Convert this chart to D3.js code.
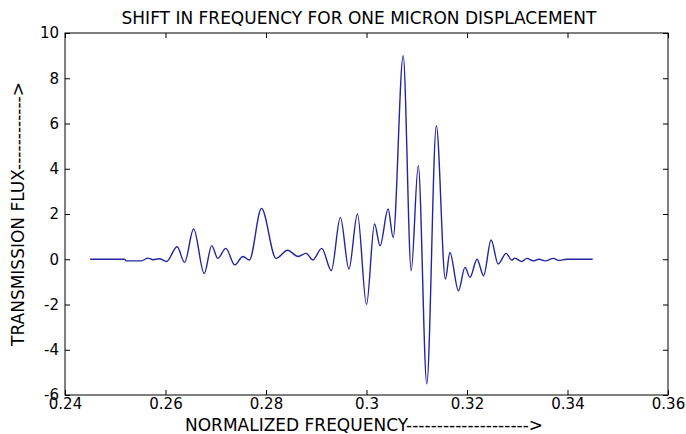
<!DOCTYPE html>
<html>
<head>
<meta charset="utf-8">
<script src="https://cdn.jsdelivr.net/npm/d3@7"></script>
<style>
body { margin: 0; background: #fff; }
text { font-family: "DejaVu Sans", sans-serif; fill: #000; }
</style>
</head>
<body>
<script>
// turning points of the trace
var freq = [0.245, 0.2518, 0.2522, 0.2552, 0.2565, 0.2575, 0.2588, 0.2602, 0.2623, 0.2638,
	0.2656, 0.2677, 0.2692, 0.2704, 0.2720, 0.2738, 0.2754, 0.2767, 0.2791, 0.2820,
	0.2843, 0.2864, 0.2880, 0.2893, 0.2911, 0.2930, 0.2948, 0.2965, 0.2982, 0.3000,
	0.3016, 0.3027, 0.3043, 0.3053, 0.3073, 0.3089, 0.3103, 0.3120, 0.3139, 0.3157,
	0.3166, 0.3183, 0.3196, 0.3206, 0.3220, 0.3233, 0.3248, 0.3262, 0.3278, 0.3289,
	0.3295, 0.3309, 0.3319, 0.3332, 0.3343, 0.3356, 0.3372, 0.3382, 0.3398, 0.345];
var flux = [0, 0, -0.07, -0.07, 0.05, -0.02, 0.02, -0.1, 0.55, -0.14,
	1.34, -0.63, 0.6, 0.04, 0.48, -0.25, 0.12, -0.03, 2.25, 0.04,
	0.4, 0.12, 0.26, -0.03, 0.48, -0.5, 1.85, -0.43, 2.0, -2.0,
	1.56, 0.6, 2.22, 0.96, 9.0, -0.5, 4.14, -5.5, 5.9, -0.88,
	0.3, -1.39, -0.36, -0.8, 0.0, -0.73, 0.85, -0.21, 0.26, -0.04,
	0.05, -0.1, 0.04, -0.07, 0.0, -0.07, 0.04, -0.05, 0.0, 0];

var xTicks = [0.24, 0.26, 0.28, 0.3, 0.32, 0.34, 0.36];
var yTicks = [-6, -4, -2, 0, 2, 4, 6, 8, 10];

var titleText = "SHIFT IN FREQUENCY FOR ONE MICRON DISPLACEMENT";
var xLabel = "NORMALIZED FREQUENCY-------------------->";
var yLabel = "TRANSMISSION FLUX------------>";

var W = 686, H = 434;
// plot box (named m* so they don't clash with window.top etc)
var mLeft = 65, mRight = 668, mTop = 33, mBottom = 395;

var svg = d3.select("body").append("svg")
	.attr("width", W)
	.attr("height", H);

var x = d3.scaleLinear().domain([0.24, 0.36]).range([mLeft, mRight]);
var y = d3.scaleLinear().domain([-6, 10]).range([mBottom, mTop]);

// box
svg.append("rect")
	.attr("x", mLeft).attr("y", mTop)
	.attr("width", mRight - mLeft).attr("height", mBottom - mTop)
	.attr("fill", "none").attr("stroke", "#000").attr("stroke-width", 1);

// axes, ticks pointing inwards like matlab
var fmt = function(d) { return String(d); };

var gx = svg.append("g").attr("transform", "translate(0," + mBottom + ")")
	.call(d3.axisBottom(x).tickValues(xTicks).tickFormat(fmt).tickSizeInner(-5).tickSizeOuter(0).tickPadding(3));
var gxt = svg.append("g").attr("transform", "translate(0," + mTop + ")")
	.call(d3.axisTop(x).tickValues(xTicks).tickFormat("").tickSizeInner(-5).tickSizeOuter(0));
var gy = svg.append("g").attr("transform", "translate(" + mLeft + ",0)")
	.call(d3.axisLeft(y).tickValues(yTicks).tickFormat(fmt).tickSizeInner(-5).tickSizeOuter(0).tickPadding(6));
var gyr = svg.append("g").attr("transform", "translate(" + mRight + ",0)")
	.call(d3.axisRight(y).tickValues(yTicks).tickFormat("").tickSizeInner(-5).tickSizeOuter(0));

[gx, gxt, gy, gyr].forEach(function(g) {
	g.select(".domain").remove();
	g.selectAll("text").style("font-family", "'DejaVu Sans', sans-serif")
		.style("font-size", "15px").attr("fill", "#000");
});

// the trace
var pts = d3.zip(freq, flux);
var line = d3.line()
	.x(function(d) { return x(d[0]); })
	.y(function(d) { return y(d[1]); })
	.curve(d3.curveMonotoneX);

svg.append("path")
	.datum(pts)
	.attr("d", line)
	.attr("fill", "none")
	.attr("stroke", "#2424a0")
	.attr("stroke-width", 1.4);

// labels
svg.append("text")
	.attr("x", 359).attr("y", 24)
	.attr("text-anchor", "middle")
	.style("font-size", "17px")
	.text(titleText);

svg.append("text")
	.attr("x", 364).attr("y", 431)
	.attr("text-anchor", "middle")
	.style("font-size", "17px")
	.text(xLabel);

svg.append("text")
	.attr("transform", "translate(24," + ((mTop + mBottom) / 2) + ") rotate(-90)")
	.attr("text-anchor", "middle")
	.style("font-size", "17px")
	.text(yLabel);
</script>
</body>
</html>
